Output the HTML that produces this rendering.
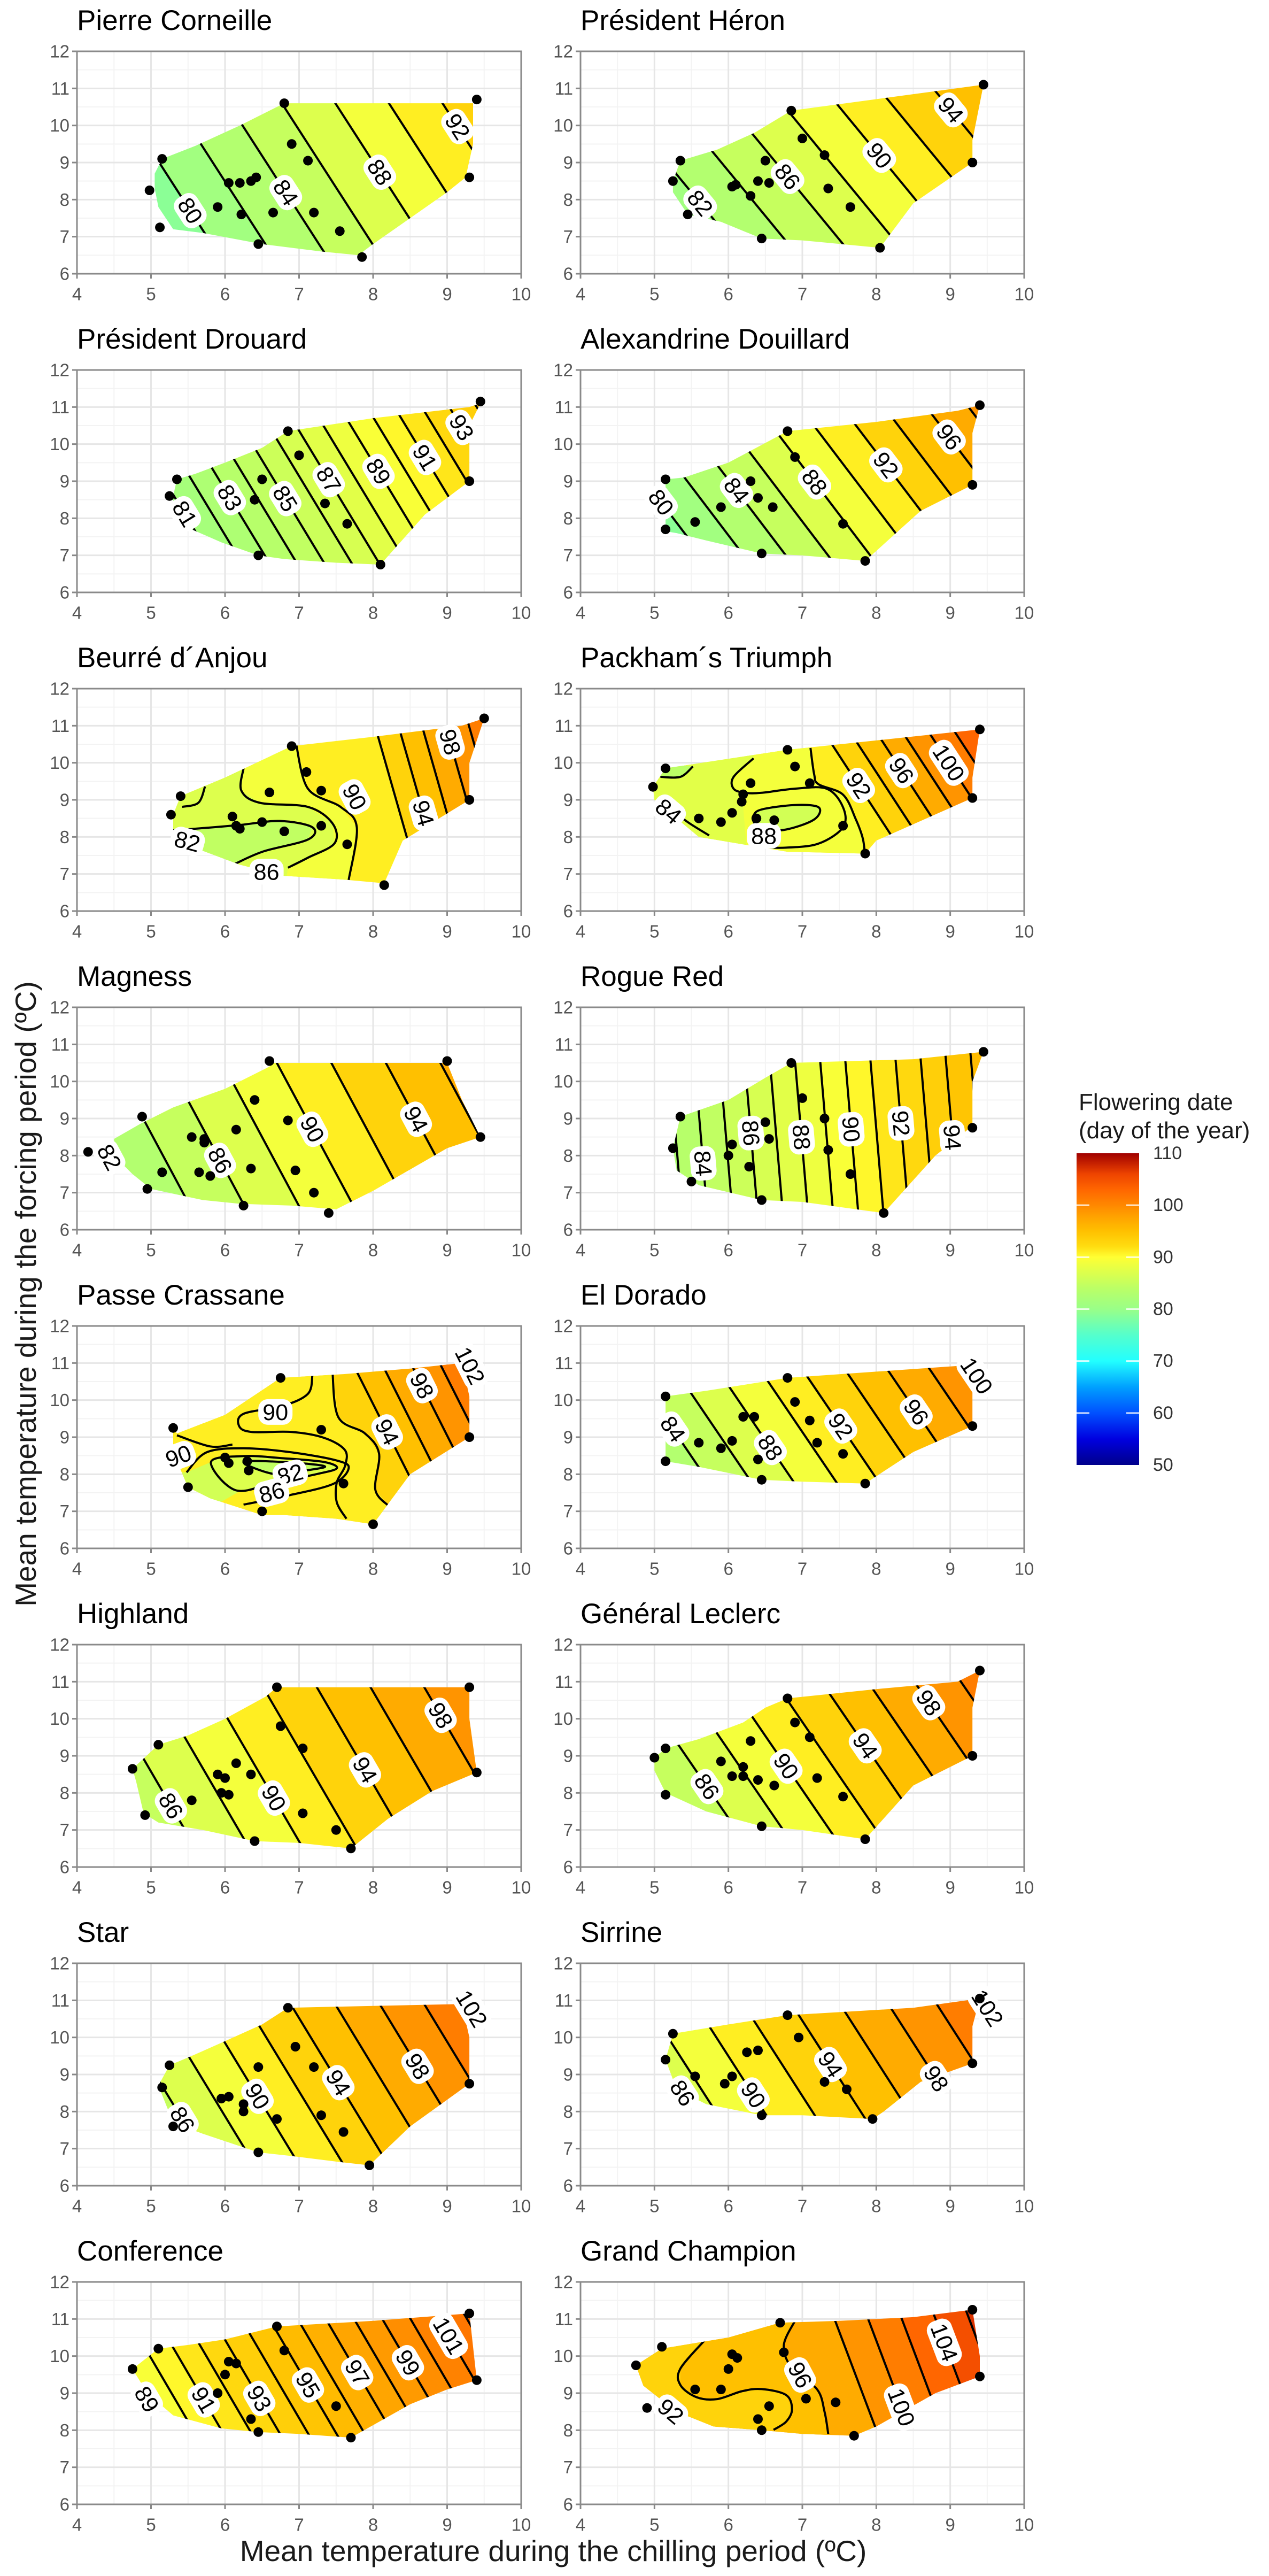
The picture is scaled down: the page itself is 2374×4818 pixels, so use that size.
<!DOCTYPE html>
<html><head><meta charset="utf-8">
<style>
html,body{margin:0;padding:0;background:#fff;width:2374px;height:4818px;overflow:hidden;}
svg{display:block;font-family:"Liberation Sans",Arial,sans-serif;}
</style></head>
<body>
<svg id="s" width="2374" height="4818" viewBox="0 0 2374 4818" xmlns="http://www.w3.org/2000/svg">
<rect width="2374" height="4818" fill="#fff"/>
<text x="48" y="2420" font-size="55" fill="#1a1a1a" text-anchor="middle" dominant-baseline="central" transform="rotate(-90 48 2420)">Mean temperature during the forcing period (ºC)</text>
<text x="1035" y="4790" font-size="55" fill="#1a1a1a" text-anchor="middle">Mean temperature during the chilling period (ºC)</text>
<text x="2018" y="2076" font-size="44" fill="#1a1a1a">Flowering date</text>
<text x="2018" y="2129" font-size="44" fill="#1a1a1a">(day of the year)</text>
<defs>
<linearGradient id="leg" x1="0" y1="0" x2="0" y2="1">
<stop offset="0" stop-color="#a00000"/>
<stop offset="0.0667" stop-color="#ee4400"/>
<stop offset="0.1167" stop-color="#ff6600"/>
<stop offset="0.1667" stop-color="#ff8800"/>
<stop offset="0.2" stop-color="#ffa000"/>
<stop offset="0.25" stop-color="#ffc000"/>
<stop offset="0.3" stop-color="#ffdd11"/>
<stop offset="0.3333" stop-color="#ffff33"/>
<stop offset="0.3667" stop-color="#e8ff44"/>
<stop offset="0.4333" stop-color="#bbff66"/>
<stop offset="0.5" stop-color="#99ff88"/>
<stop offset="0.5833" stop-color="#55ffcc"/>
<stop offset="0.6667" stop-color="#22ffff"/>
<stop offset="0.75" stop-color="#00a0ff"/>
<stop offset="0.8333" stop-color="#0050ff"/>
<stop offset="0.9167" stop-color="#0000e0"/>
<stop offset="1" stop-color="#00008b"/>
</linearGradient>
</defs>
<rect x="2014" y="2157" width="117" height="583" fill="url(#leg)"/>
<g id="legt"></g>
<g id="panels"></g>
</svg>
<script>
(function(){
const PAL=[[50,'#00008b'],[55,'#0000e0'],[60,'#0050ff'],[65,'#00a0ff'],[70,'#22ffff'],[75,'#55ffcc'],[80,'#99ff88'],[84,'#bbff66'],[88,'#e8ff44'],[90,'#ffff33'],[92,'#ffdd11'],[95,'#ffc000'],[98,'#ffa000'],[100,'#ff8800'],[103,'#ff6600'],[106,'#ee4400'],[110,'#a00000']];
function h2r(h){return [parseInt(h.substr(1,2),16),parseInt(h.substr(3,2),16),parseInt(h.substr(5,2),16)];}
function col(v){
  if(v<=PAL[0][0])return PAL[0][1];
  for(let i=1;i<PAL.length;i++){ if(v<=PAL[i][0]){const a=h2r(PAL[i-1][1]),b=h2r(PAL[i][1]);const t=(v-PAL[i-1][0])/(PAL[i][0]-PAL[i-1][0]);
    return 'rgb('+a.map((c,j)=>Math.round(c+(b[j]-c)*t)).join(',')+')';}}
  return PAL[PAL.length-1][1];
}
let lg='';
for(let v=50;v<=110;v+=10){const y=2157+(110-v)*583/60;
  if(v>50&&v<110){lg+=`<line x1="2014" y1="${y}" x2="2038" y2="${y}" stroke="#fff" stroke-width="3" opacity="0.8"/><line x1="2107" y1="${y}" x2="2131" y2="${y}" stroke="#fff" stroke-width="3" opacity="0.8"/>`;}
  lg+=`<text x="2157" y="${y}" font-size="34" fill="#333" dominant-baseline="central">${v}</text>`;}
document.getElementById('legt').innerHTML=lg;

function smooth(p,closed){
  const n=p.length; if(n<2)return '';
  let d=`M${p[0][0].toFixed(1)},${p[0][1].toFixed(1)}`;
  const g=i=>closed?p[(i+n)%n]:p[Math.max(0,Math.min(n-1,i))];
  const m=closed?n:n-1;
  for(let i=0;i<m;i++){const p0=g(i-1),p1=g(i),p2=g(i+1),p3=g(i+2);
    const c1=[p1[0]+(p2[0]-p0[0])/6,p1[1]+(p2[1]-p0[1])/6];
    const c2=[p2[0]-(p3[0]-p1[0])/6,p2[1]-(p3[1]-p1[1])/6];
    d+=`C${c1[0].toFixed(1)},${c1[1].toFixed(1)} ${c2[0].toFixed(1)},${c2[1].toFixed(1)} ${p2[0].toFixed(1)},${p2[1].toFixed(1)}`;}
  if(closed)d+='Z';
  return d;
}

const P=[
{t:'Pierre Corneille',
 hull:[[5.05,8.7],[5.15,9.1],[5.6,9.45],[6.2,10.0],[6.8,10.6],[9.35,10.6],[9.35,9.5],[9.25,8.6],[9.0,8.2],[8.5,7.5],[8.0,6.8],[7.8,6.5],[7.3,6.6],[6.5,6.8],[5.7,7.1],[5.3,7.2],[5.1,7.8],[5.05,8.3]],
 pts:[[4.98,8.25],[5.15,9.1],[5.12,7.25],[5.9,7.8],[6.05,8.45],[6.2,8.45],[6.35,8.5],[6.42,8.6],[6.22,7.6],[6.45,6.8],[6.65,7.65],[6.8,10.6],[6.9,9.5],[7.12,9.05],[7.2,7.65],[7.55,7.15],[7.85,6.45],[9.3,8.6],[9.4,10.7]],
 m:{d:[1.1,-3.41],a:[84,6.82,8.19],b:[88,8.09,8.74],step:2,lmin:70},
 labels:[[80,5.52,7.69],[84,6.82,8.19],[88,8.09,8.74],[92,9.14,9.97]]},
{t:'Président Héron',
 hull:[[5.25,8.5],[5.35,9.05],[5.85,9.35],[6.35,9.8],[6.85,10.4],[9.45,11.1],[9.3,9.6],[9.3,9.0],[8.5,7.9],[8.05,6.7],[7.0,6.9],[6.45,6.95],[5.9,7.4],[5.45,7.6],[5.25,8.2]],
 pts:[[5.35,9.05],[5.25,8.5],[5.45,7.6],[6.05,8.35],[6.1,8.4],[6.3,8.1],[6.4,8.5],[6.55,8.45],[6.5,9.05],[6.85,10.4],[7.0,9.65],[7.3,9.2],[7.35,8.3],[7.65,7.8],[6.45,6.95],[8.05,6.7],[9.3,9.0],[9.45,11.1]],
 m:{d:[1.27,-3.08],a:[86,6.8,8.62],b:[90,8.04,9.19],step:2,lmin:70},
 labels:[[82,5.63,7.93],[86,6.8,8.62],[90,8.04,9.19],[94,8.99,10.39]]},
{t:'Président Drouard',
 hull:[[5.3,8.6],[5.35,9.05],[5.6,9.2],[6.0,9.5],[6.5,9.9],[6.85,10.35],[8.0,10.7],[9.3,11.0],[9.45,11.1],[9.3,10.5],[9.3,9.0],[8.7,8.1],[8.1,6.75],[7.5,6.8],[6.8,6.9],[6.45,7.0],[5.95,7.35],[5.55,7.7],[5.3,8.3]],
 pts:[[5.35,9.05],[5.25,8.6],[6.4,8.5],[6.5,9.05],[6.45,7.0],[6.85,10.35],[7.0,9.7],[7.35,8.4],[7.65,7.85],[8.1,6.75],[9.3,9.0],[9.45,11.15]],
 m:{d:[1.02,-3.37],a:[87,7.4,9.04],b:[91,8.7,9.64],step:1,lmin:70},
 labels:[[81,5.44,8.1],[83,6.05,8.54],[85,6.82,8.54],[87,7.4,9.04],[89,8.07,9.26],[91,8.7,9.64],[93,9.17,10.42]]},
{t:'Alexandrine Douillard',
 hull:[[5.15,7.65],[5.15,9.05],[5.4,9.1],[6.0,9.5],[6.8,10.35],[8.0,10.6],[9.1,10.9],[9.4,11.05],[9.3,10.3],[9.3,8.9],[8.6,8.2],[7.85,6.85],[7.0,7.0],[6.45,7.05],[5.7,7.4],[5.3,7.6]],
 pts:[[5.15,9.05],[5.15,7.7],[5.55,7.9],[5.9,8.3],[6.3,9.0],[6.4,8.55],[6.6,8.3],[6.45,7.05],[6.8,10.35],[6.9,9.65],[7.55,7.85],[7.85,6.85],[9.3,8.9],[9.4,11.05]],
 m:{d:[1.2,-3.15],a:[84,6.11,8.75],b:[92,8.13,9.44],step:2,lmin:70},
 labels:[[80,5.09,8.43],[84,6.11,8.75],[88,7.18,9.0],[92,8.13,9.44],[96,8.99,10.2]]},
{t:'Beurré d´Anjou',
 hull:[[5.3,8.6],[5.4,9.1],[6.0,9.6],[6.9,10.45],[8.0,10.7],[9.2,11.0],[9.5,11.2],[9.3,10.0],[9.3,9.0],[8.4,7.9],[8.15,6.75],[7.6,6.85],[6.8,6.95],[6.2,7.25],[5.6,7.7],[5.3,8.2]],
 pts:[[5.4,9.1],[5.27,8.6],[6.1,8.55],[6.15,8.3],[6.2,8.22],[6.5,8.4],[6.6,9.2],[6.8,8.15],[6.9,10.45],[7.1,9.75],[7.3,9.25],[7.3,8.3],[7.65,7.8],[8.15,6.7],[9.3,9.0],[9.5,11.2]],
 m:{d:[0.438,-3.06],a:[94,8.68,8.64],b:[98,9.04,10.56],step:2,lmin:92,clamp:90},
 fills:[[89,[[6.96,11],[6.96,10.5],[7.12,9.3],[7.56,8.81],[7.78,8.26],[7.67,6.84],[7.67,6],[4,6],[4,11]]],
        [87,[[6.25,10.6],[6.25,9.85],[6.22,9.25],[6.47,8.92],[7.12,8.81],[7.45,8.37],[7.48,7.83],[7.12,7.44],[6.85,7.17],[6.8,6.5],[4,6.5],[4,10.6]]],
        [84.5,[[5.2,8.2],[5.53,8.21],[6.19,8.32],[6.74,8.43],[7.18,8.26],[7.12,7.93],[6.52,7.61],[6.14,7.28],[5.9,7.0],[5.0,7.0]]]],
 curves:[[[6.25,9.85],[6.22,9.25],[6.47,8.92],[7.12,8.81],[7.45,8.37],[7.48,7.83],[7.12,7.44],[6.85,7.17]],
         [[5.3,8.18],[5.53,8.21],[6.19,8.32],[6.74,8.43],[7.18,8.26],[7.12,7.93],[6.52,7.61],[6.14,7.28]],
         [[5.42,8.81],[5.64,8.92],[5.73,9.36]],
         [[6.96,10.5],[7.12,9.3],[7.56,8.81],[7.78,8.26],[7.67,6.84]]],
 labels:[[82,5.49,7.88,15],[86,6.56,7.06,0],[90,7.75,9.08,62],[94,8.68,8.64],[98,9.04,10.56]]},
{t:'Packham´s Triumph',
 hull:[[4.98,9.35],[5.15,9.85],[6.8,10.35],[9.4,10.9],[9.3,9.6],[9.3,9.05],[8.0,7.9],[7.85,7.55],[6.8,7.6],[6.2,7.8],[5.6,8.0],[5.0,9.0]],
 pts:[[5.15,9.85],[4.98,9.35],[5.6,8.5],[5.9,8.4],[6.05,8.65],[6.18,8.95],[6.2,9.15],[6.3,9.45],[6.38,8.5],[6.62,8.45],[6.8,10.35],[6.9,9.9],[7.1,9.45],[7.55,8.3],[7.85,7.55],[9.3,9.05],[9.4,10.9]],
 m:{d:[0.823,-2.52],a:[96,8.34,9.79],b:[100,8.98,10.0],step:2,lmin:92,clamp:90},
 fills:[[89,[[7.11,11],[7.11,10.24],[7.16,9.69],[7.22,9.42],[7.55,9.14],[7.72,8.49],[7.82,7.94],[7.85,7.39],[7.85,7],[4,7],[4,11]]],
        [87.5,[[4,10.6],[6.34,10.6],[6.34,10.12],[6.07,9.62],[6.07,9.3],[6.23,9.19],[6.2,8.8],[6.25,7.6],[4,7.6]]],
        [86,[[6.34,8.58],[6.45,8.74],[6.89,8.86],[7.22,8.8],[7.16,8.47],[6.78,8.2],[6.45,8.2],[6.34,8.42]],1],
        [84,[[4.9,9.62],[5.08,9.62],[5.35,9.62],[5.52,9.9],[5.0,10.0]]]],
 curves:[[[7.11,10.4],[7.16,9.69],[7.22,9.42],[7.55,9.14],[7.72,8.49],[7.82,7.94],[7.85,7.39]],
         [[6.34,10.12],[6.07,9.62],[6.07,9.3],[6.23,9.19],[6.45,9.19],[6.89,9.3],[7.33,9.3],[7.55,8.8],[7.55,8.26],[7.22,7.82],[6.78,7.71],[6.5,7.72]],
         [[6.34,8.58],[6.45,8.74],[6.89,8.86],[7.22,8.8],[7.16,8.47],[6.78,8.2],[6.45,8.2],[6.34,8.42],1],
         [[5.08,9.62],[5.35,9.62],[5.52,9.9]],
         [[5.19,8.8],[5.45,8.4],[5.74,8.04]]],
 labels:[[84,5.19,8.69,40],[88,6.48,8.03,0],[92,7.77,9.4],[96,8.34,9.79],[100,8.98,10.0]]},
{t:'Magness',
 hull:[[4.5,8.45],[4.85,8.85],[5.3,9.3],[6.0,9.8],[6.6,10.4],[6.65,10.5],[9.0,10.5],[9.2,9.5],[9.45,8.5],[9.0,8.2],[8.0,7.05],[7.5,6.55],[6.9,6.65],[6.2,6.7],[5.7,6.8],[5.0,7.1],[4.75,7.5],[4.5,8.0]],
 pts:[[4.15,8.1],[4.88,9.05],[4.95,7.1],[5.15,7.55],[5.55,8.5],[5.72,8.45],[5.72,8.35],[5.65,7.55],[5.8,7.45],[6.15,8.7],[6.25,6.65],[6.35,7.65],[6.4,9.5],[6.6,10.55],[6.85,8.95],[6.95,7.6],[7.2,7.0],[7.4,6.45],[9.0,10.55],[9.45,8.5]],
 m:{d:[0.877,-3.27],a:[90,7.18,8.71],b:[94,8.58,8.98],step:2,lmin:70},
 labels:[[82,4.38,7.89],[86,5.95,7.89],[90,7.18,8.71],[94,8.58,8.98]]},
{t:'Rogue Red',
 hull:[[5.25,8.2],[5.35,9.05],[6.0,9.5],[6.5,10.1],[6.85,10.5],[8.5,10.6],[9.45,10.8],[9.3,10.0],[9.3,8.8],[8.8,8.0],[8.1,6.45],[7.0,6.75],[6.45,6.8],[5.6,7.2],[5.3,7.6]],
 pts:[[5.35,9.05],[5.25,8.2],[5.5,7.3],[6.0,8.0],[6.05,8.3],[6.28,7.7],[6.5,8.9],[6.55,8.45],[6.45,6.8],[6.85,10.5],[7.0,9.55],[7.3,9.0],[7.35,8.15],[7.65,7.5],[8.1,6.45],[9.3,8.75],[9.45,10.8]],
 m:{d:[0.165,-3.87],a:[90,7.66,8.71],b:[94,9.03,8.49],step:1,lmin:70},
 labels:[[84,5.6,7.78],[86,6.26,8.6],[88,6.95,8.49],[90,7.66,8.71],[92,8.34,8.87],[94,9.03,8.49]]},
{t:'Passe Crassane',
 hull:[[5.3,9.25],[5.35,9.1],[6.0,9.6],[6.75,10.6],[7.6,10.7],[8.5,10.85],[9.2,11.0],[9.3,10.1],[9.3,9.0],[8.5,8.0],[8.0,6.65],[7.5,6.8],[6.8,6.9],[6.5,6.9],[5.8,7.35],[5.5,7.65],[5.3,8.6]],
 pts:[[5.3,9.25],[5.5,7.65],[6.0,8.45],[6.05,8.3],[6.3,8.35],[6.32,8.1],[6.5,7.0],[6.75,10.6],[7.3,9.2],[7.6,7.75],[8.0,6.65],[9.3,9.0]],
 m:{d:[0.767,-3.04],a:[94,8.19,9.14],b:[98,8.66,10.39],step:2,lmin:94,clamp:92},
 fills:[[91,[[7.45,11],[7.45,10.79],[7.53,9.54],[7.89,9.1],[8.08,8.56],[8.03,7.58],[8.22,7.13],[8.3,6.5],[4,6.5],[4,11]]],
        [86,[[5.3,8.05],[5.48,8.05],[5.81,8.33],[6.25,8.2],[6.25,7.6],[5.9,7.2],[5.3,7.4]]],
        [87,[[5.81,8.33],[6.25,8.49],[6.79,8.43],[7.34,8.33],[7.51,8.16],[7.23,8.0],[6.68,7.78],[6.14,7.57]],1],
        [84.5,[[6.25,8.33],[6.79,8.33],[7.34,8.22],[7.12,8.11],[6.68,8.0]],1]],
 curves:[[[7.45,10.79],[7.53,9.54],[7.89,9.1],[8.08,8.56],[8.03,7.58],[8.22,7.13]],
         [[7.18,10.66],[7.12,10.17],[6.79,9.85],[6.25,9.63],[6.19,9.3],[6.36,9.14],[6.9,9.14],[7.34,8.98],[7.62,8.65],[7.62,8.22],[7.51,7.78],[7.51,7.24],[7.64,6.8]],
         [[5.48,8.05],[5.75,8.59],[6.25,8.7],[6.9,8.59],[7.51,8.37],[7.67,8.16],[7.45,7.73],[6.79,7.4],[6.25,7.18]],
         [[5.81,8.33],[6.25,8.49],[6.79,8.43],[7.34,8.33],[7.51,8.16],[7.23,8.0],[6.68,7.78],[6.14,7.57],1],
         [[6.25,8.33],[6.79,8.33],[7.34,8.22],[7.12,8.11],[6.68,8.0],1],
         [[5.35,9.05],[5.8,8.75],[6.1,8.8]]],
 labels:[[90,5.37,8.49,-20],[90,6.68,9.68,0],[82,6.88,8.0,-15],[86,6.63,7.51,-15],[94,8.19,9.14],[98,8.66,10.39],[102,9.26,10.88]]},
{t:'El Dorado',
 hull:[[5.15,8.35],[5.15,10.1],[5.7,10.25],[6.8,10.6],[9.3,10.95],[9.3,9.3],[8.5,8.6],[7.85,7.75],[7.0,7.8],[6.45,7.85],[5.6,8.2]],
 pts:[[5.15,10.1],[5.15,8.35],[5.6,8.85],[5.9,8.7],[6.05,8.9],[6.2,9.55],[6.35,9.55],[6.4,8.4],[6.45,7.85],[6.8,10.6],[6.9,9.95],[7.1,9.45],[7.2,8.85],[7.55,8.55],[7.85,7.75],[9.3,9.3]],
 m:{d:[0.85,-2.5],a:[92,7.52,9.3],b:[96,8.54,9.68],step:2,lmin:70},
 labels:[[84,5.11,9.03],[88,6.56,8.71],[92,7.52,9.3],[96,8.54,9.68],[100,9.28,10.55]]},
{t:'Highland',
 hull:[[4.75,8.65],[5.1,9.3],[5.5,9.55],[6.0,10.0],[6.55,10.6],[6.7,10.85],[9.3,10.85],[9.3,10.0],[9.4,8.55],[8.8,8.05],[8.2,7.3],[7.7,6.5],[7.0,6.65],[6.4,6.7],[5.7,7.0],[5.1,7.2],[4.9,7.45],[4.8,8.3]],
 pts:[[4.75,8.65],[5.1,9.3],[4.92,7.4],[5.55,7.8],[5.9,8.5],[6.0,8.4],[6.05,7.95],[5.95,8.0],[6.15,8.8],[6.35,8.5],[6.4,6.7],[6.7,10.85],[6.75,9.8],[7.05,9.2],[7.05,7.45],[7.5,7.0],[7.7,6.5],[9.3,10.85],[9.4,8.55]],
 m:{d:[0.822,-2.82],a:[90,6.66,7.86],b:[94,7.89,8.62],step:2,lmin:70},
 labels:[[86,5.26,7.64],[90,6.66,7.86],[94,7.89,8.62],[98,8.9,10.08]]},
{t:'Général Leclerc',
 hull:[[5.0,8.95],[5.15,9.2],[5.6,9.45],[6.2,9.9],[6.5,10.3],[6.8,10.55],[8.0,10.8],[9.1,11.0],[9.4,11.3],[9.3,10.3],[9.3,9.0],[8.5,8.2],[7.85,6.75],[7.0,7.0],[6.45,7.1],[5.7,7.5],[5.15,8.0],[5.0,8.6]],
 pts:[[5.0,8.95],[5.15,9.2],[5.15,7.95],[5.9,8.85],[6.05,8.45],[6.2,8.7],[6.2,8.45],[6.3,9.4],[6.4,8.35],[6.62,8.2],[6.45,7.1],[6.8,10.55],[6.9,9.9],[7.1,9.5],[7.2,8.4],[7.55,7.9],[7.85,6.75],[9.3,9.0],[9.4,11.3]],
 m:{d:[0.93,-2.71],a:[90,6.78,8.72],b:[94,7.85,9.27],step:2,lmin:70},
 labels:[[86,5.68,8.13],[90,6.78,8.72],[94,7.85,9.27],[98,8.65,10.35]]},
{t:'Star',
 hull:[[5.1,8.7],[5.25,9.25],[5.55,9.5],[6.0,9.9],[6.5,10.35],[6.85,10.8],[8.0,10.85],[9.2,10.9],[9.3,10.0],[9.3,8.75],[8.5,7.6],[7.95,6.55],[7.5,6.65],[6.9,6.8],[6.45,6.9],[5.7,7.4],[5.3,7.7]],
 pts:[[5.25,9.25],[5.15,8.65],[5.3,7.6],[5.95,8.35],[6.05,8.4],[6.25,8.2],[6.25,8.0],[6.45,9.2],[6.7,7.8],[6.45,6.9],[6.85,10.8],[6.95,9.75],[7.2,9.2],[7.3,7.9],[7.6,7.45],[7.95,6.55],[9.3,8.75]],
 m:{d:[1.12,-3.68],a:[94,7.53,8.78],b:[98,8.6,9.22],step:2,lmin:70},
 labels:[[86,5.48,7.85],[90,6.47,8.45],[94,7.53,8.78],[98,8.6,9.22],[102,9.32,10.76]]},
{t:'Sirrine',
 hull:[[5.15,9.4],[5.25,10.1],[6.0,10.35],[6.8,10.6],[8.5,10.8],[9.4,11.05],[9.3,10.3],[9.3,9.3],[8.6,8.8],[8.1,8.0],[7.95,7.8],[7.0,7.9],[6.45,7.9],[5.7,8.2],[5.3,8.6]],
 pts:[[5.25,10.1],[5.15,9.4],[5.55,8.95],[5.95,8.75],[6.05,8.95],[6.25,9.6],[6.4,9.65],[6.45,7.9],[6.8,10.6],[6.95,10.0],[7.3,8.8],[7.6,8.6],[7.95,7.8],[9.3,9.3],[9.4,11.05]],
 m:{d:[0.85,-2.64],a:[94,7.38,9.27],b:[98,8.81,8.89],step:2,lmin:70},
 labels:[[86,5.38,8.5,57],[90,6.48,8.63],[94,7.38,9.27],[98,8.81,8.89],[102,9.22,10.43]]},
{t:'Conference',
 hull:[[4.75,9.65],[5.1,10.2],[5.5,10.3],[6.0,10.45],[6.7,10.8],[8.0,10.95],[9.3,11.15],[9.4,9.35],[9.0,9.1],[8.5,8.7],[7.7,7.8],[7.0,7.9],[6.45,7.95],[5.95,8.05],[5.3,8.4],[4.95,9.0]],
 pts:[[4.75,9.65],[5.1,10.2],[5.9,9.0],[6.0,9.5],[6.05,9.85],[6.15,9.8],[6.35,8.3],[6.45,7.95],[6.7,10.8],[6.8,10.15],[7.5,8.65],[7.7,7.8],[9.3,11.15],[9.4,9.35]],
 m:{d:[0.82,-2.8],a:[95,7.12,9.22],b:[99,8.47,9.82],step:1,lmin:70},
 labels:[[89,4.99,8.89],[91,5.73,8.84],[93,6.49,8.89],[95,7.12,9.22],[97,7.78,9.55],[99,8.47,9.82],[101,8.96,10.48]]},
{t:'Grand Champion',
 hull:[[4.75,9.75],[5.1,10.2],[6.0,10.5],[6.7,10.9],[7.5,10.95],[8.5,11.05],[9.3,11.25],[9.4,10.0],[9.4,9.45],[8.8,9.0],[8.0,8.1],[7.7,7.85],[7.0,7.9],[6.45,8.0],[5.8,8.1],[5.3,8.5],[4.85,9.2]],
 pts:[[4.75,9.75],[5.1,10.25],[4.9,8.6],[5.55,9.1],[5.9,9.1],[6.0,9.65],[6.05,10.05],[6.12,9.95],[6.4,8.3],[6.45,8.0],[6.55,8.65],[6.7,10.9],[6.75,10.1],[7.05,8.85],[7.45,8.75],[7.7,7.85],[9.3,11.25],[9.4,9.45]],
 m:{d:[0.55,-2.91],a:[100,8.34,8.62],b:[104,8.92,10.37],step:2,lmin:98,clamp:96},
 fills:[[95,[[6.9,11.2],[6.9,10.95],[6.75,10.3],[6.85,9.7],[7.2,9.1],[7.3,8.5],[7.35,7.9],[7.35,7.5],[4,7.5],[4,11.2]]],
        [93,[[4.5,9.75],[5.1,10.3],[5.68,10.43],[5.35,9.66],[5.35,9.22],[5.57,8.89],[5.85,8.84],[6.18,9.05],[6.45,9.11],[6.78,8.95],[6.86,8.56],[6.78,8.23],[6.61,8.01],[6.0,7.9],[5.2,8.2],[4.6,8.9]]]],
 curves:[[[6.9,10.95],[6.75,10.3],[6.85,9.7],[7.2,9.1],[7.3,8.5],[7.35,7.9]],
         [[5.68,10.43],[5.35,9.66],[5.35,9.22],[5.57,8.89],[5.85,8.84],[6.18,9.05],[6.45,9.11],[6.78,8.95],[6.86,8.56],[6.78,8.23],[6.61,8.01]],
         [[4.88,9.1],[5.05,8.85]]],
 labels:[[92,5.22,8.51,40],[96,6.97,9.49,62],[100,8.34,8.62],[104,8.92,10.37]]}
];

let out='';
P.forEach((p,i)=>{
  const c=i%2, r=Math.floor(i/2);
  const x0=c?1086:144, x1=c?1916:975, top=96+596*r, bot=top+416;
  const sx=(x1-x0)/6, sy=416/6;
  const X=x=>x0+(x-4)*sx, Y=y=>top+(12-y)*sy;
  const PX=q=>[X(q[0]),Y(q[1])];
  out+=`<text x="${x0}" y="${top-40}" font-size="53" fill="#000">${p.t}</text>`;
  for(let v=4.5;v<10;v+=1) out+=`<line x1="${X(v)}" y1="${top}" x2="${X(v)}" y2="${bot}" stroke="#f3f3f3" stroke-width="2"/>`;
  for(let v=6.5;v<12;v+=1) out+=`<line x1="${x0}" y1="${Y(v)}" x2="${x1}" y2="${Y(v)}" stroke="#f3f3f3" stroke-width="2"/>`;
  for(let v=5;v<10;v++) out+=`<line x1="${X(v)}" y1="${top}" x2="${X(v)}" y2="${bot}" stroke="#e6e6e6" stroke-width="3"/>`;
  for(let v=7;v<12;v++) out+=`<line x1="${x0}" y1="${Y(v)}" x2="${x1}" y2="${Y(v)}" stroke="#e6e6e6" stroke-width="3"/>`;
  for(let v=4;v<=10;v++){out+=`<line x1="${X(v)}" y1="${bot}" x2="${X(v)}" y2="${bot+9}" stroke="#888" stroke-width="3"/><text x="${X(v)}" y="${bot+38}" font-size="33" fill="#555" text-anchor="middle" dominant-baseline="central">${v}</text>`;}
  for(let v=6;v<=12;v++){out+=`<line x1="${x0-9}" y1="${Y(v)}" x2="${x0}" y2="${Y(v)}" stroke="#888" stroke-width="3"/><text x="${x0-14}" y="${Y(v)}" font-size="33" fill="#555" text-anchor="end" dominant-baseline="central">${v}</text>`;}
  const m=p.m;
  let dx=m.d[0]*sx, dy=-m.d[1]*sy; if(dy<0){dx=-dx;dy=-dy;}
  const dl=Math.hypot(dx,dy); dx/=dl; dy/=dl;
  const nx=-dy, ny=dx;
  const Pa=PX([m.a[1],m.a[2]]), Pb=PX([m.b[1],m.b[2]]);
  const k=(m.b[0]-m.a[0])/((Pb[0]-Pa[0])*nx+(Pb[1]-Pa[1])*ny);
  const at=v=>[Pa[0]+nx*(v-m.a[0])/k, Pa[1]+ny*(v-m.a[0])/k];
  const G0=at(60), G1=at(120);
  const cl=m.clamp||0;
  let st='';
  for(let v=60;v<120;v+=m.step){const vv=Math.max(v,cl);const cc=col(vv+m.step/2);
    st+=`<stop offset="${(v-60)/60}" stop-color="${cc}"/><stop offset="${(v+m.step-60)/60}" stop-color="${cc}"/>`;}
  out+=`<defs><linearGradient id="g${i}" gradientUnits="userSpaceOnUse" x1="${G0[0]}" y1="${G0[1]}" x2="${G1[0]}" y2="${G1[1]}">${st}</linearGradient>`;
  const hp=p.hull.map(PX).map(q=>q[0].toFixed(1)+','+q[1].toFixed(1)).join(' ');
  out+=`<clipPath id="c${i}"><polygon points="${hp}"/></clipPath></defs>`;
  out+=`<polygon points="${hp}" fill="url(#g${i})"/>`;
  out+=`<g clip-path="url(#c${i})">`;
  (p.fills||[]).forEach(f=>{const pts=f[1].map(PX);
    out+=`<path d="${f[2]?smooth(pts,true):'M'+pts.map(q=>q[0].toFixed(1)+','+q[1].toFixed(1)).join('L')+'Z'}" fill="${col(f[0])}"/>`;});
  for(let v=m.lmin; v<=112; v+=m.step){ if(m.step===2 && v%2) continue;
    const q=at(v); out+=`<line x1="${q[0]-dx*600}" y1="${q[1]-dy*600}" x2="${q[0]+dx*600}" y2="${q[1]+dy*600}" stroke="#000" stroke-width="4"/>`;}
  (p.curves||[]).forEach(cv=>{let closed=false; let a=cv; if(typeof a[a.length-1]==='number'){closed=true;a=a.slice(0,-1);}
    out+=`<path d="${smooth(a.map(PX),closed)}" fill="none" stroke="#000" stroke-width="4"/>`;});
  out+=`</g>`;
  const angLin=Math.atan2(dy,dx)*180/Math.PI;
  p.labels.forEach(L=>{
    let q=PX([L[1],L[2]]), ang;
    if(L.length>3){ang=L[3];}
    else{ const o=at(L[0]); const t=(q[0]-o[0])*nx+(q[1]-o[1])*ny; q=[q[0]-nx*t,q[1]-ny*t]; ang=angLin;}
    const s=String(L[0]); const w=s.length*24+16;
    out+=`<g transform="translate(${q[0].toFixed(1)},${q[1].toFixed(1)}) rotate(${ang.toFixed(1)})"><rect x="${-w/2}" y="-24" width="${w}" height="48" rx="18" fill="#fff"/><text x="0" y="1" font-size="43" fill="#000" text-anchor="middle" dominant-baseline="central">${s}</text></g>`;
  });
  p.pts.forEach(pt=>{const q=PX(pt); out+=`<circle cx="${q[0].toFixed(1)}" cy="${q[1].toFixed(1)}" r="9" fill="#000"/>`;});
  out+=`<rect x="${x0}" y="${top}" width="${x1-x0}" height="416" fill="none" stroke="#8a8a8a" stroke-width="3"/>`;
});
document.getElementById('panels').innerHTML=out;
})();
</script>
</body></html>
